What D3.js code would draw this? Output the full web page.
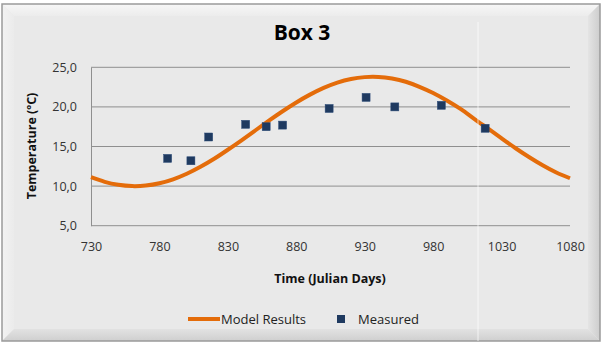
<!DOCTYPE html>
<html>
<head>
<meta charset="utf-8">
<script src="https://cdn.jsdelivr.net/npm/d3@7"></script>
<style>
  body { margin: 0; background: #fff; }
  svg { display: block; font-family: "Open Sans", sans-serif; }
</style>
</head>
<body>
<script>
// model results (every 10 days)
const modelDays = [730, 740, 750, 760, 770, 780, 790, 800, 810, 820, 830, 840, 850, 860, 870, 880, 890, 900, 910, 920, 930, 940, 950, 960, 970, 980, 990, 1000, 1010, 1020, 1030, 1040, 1050, 1060, 1070, 1080];
const modelTemp = [11.12, 10.54, 10.16, 10.0, 10.07, 10.36, 10.86, 11.56, 12.44, 13.45, 14.59, 15.78, 17.02, 18.26, 19.45, 20.56, 21.55, 22.4, 23.07, 23.53, 23.76, 23.78, 23.58, 23.18, 22.54, 21.76, 20.81, 19.74, 18.5, 17.28, 16.04, 14.81, 13.67, 12.62, 11.71, 10.99];

// measured points
const measDays = [786, 803, 816, 843, 858, 870, 904, 931, 952, 986, 1018];
const measTemp = [13.5, 13.2, 16.2, 17.8, 17.5, 17.7, 19.8, 21.2, 20.0, 20.2, 17.3];

const xTicks = [730, 780, 830, 880, 930, 980, 1030, 1080];
const yTicks = [5, 10, 15, 20, 25];

const W = 602, H = 343;
const svg = d3.select("body").append("svg").attr("width", W).attr("height", H);

const defs = svg.append("defs");
let g1 = defs.append("linearGradient").attr("id", "topBevel").attr("x1", 0).attr("y1", 0).attr("x2", 0).attr("y2", 1);
g1.append("stop").attr("offset", "0%").attr("stop-color", "#f7f7f7");
g1.append("stop").attr("offset", "100%").attr("stop-color", "#ececec");
let g2 = defs.append("linearGradient").attr("id", "botBevel").attr("x1", 0).attr("y1", 0).attr("x2", 0).attr("y2", 1);
g2.append("stop").attr("offset", "0%").attr("stop-color", "#e2e2e2");
g2.append("stop").attr("offset", "100%").attr("stop-color", "#cfcfcf");
let g3 = defs.append("linearGradient").attr("id", "rightBevel").attr("x1", 0).attr("y1", 0).attr("x2", 1).attr("y2", 0);
g3.append("stop").attr("offset", "0%").attr("stop-color", "#e4e4e4");
g3.append("stop").attr("offset", "100%").attr("stop-color", "#cdcdcd");
let g4 = defs.append("linearGradient").attr("id", "leftBevel").attr("x1", 0).attr("y1", 0).attr("x2", 1).attr("y2", 0);
g4.append("stop").attr("offset", "0%").attr("stop-color", "#f2f2f2");
g4.append("stop").attr("offset", "100%").attr("stop-color", "#ebebeb");

// frame with bevel
const fx0 = 2, fy0 = 4, fx1 = 600, fy1 = 341, bv = 12;
svg.append("rect").attr("x", fx0).attr("y", fy0).attr("width", fx1 - fx0).attr("height", fy1 - fy0)
  .attr("fill", "#e9e9e9");
svg.append("polygon").attr("fill", "url(#topBevel)")
  .attr("points", [[fx0, fy0], [fx1, fy0], [fx1 - bv, fy0 + bv], [fx0 + bv, fy0 + bv]].join(" "));
svg.append("polygon").attr("fill", "url(#leftBevel)")
  .attr("points", [[fx0, fy0], [fx0 + bv, fy0 + bv], [fx0 + bv, fy1 - bv], [fx0, fy1]].join(" "));
svg.append("polygon").attr("fill", "url(#rightBevel)")
  .attr("points", [[fx1, fy0], [fx1, fy1], [fx1 - bv, fy1 - bv], [fx1 - bv, fy0 + bv]].join(" "));
svg.append("polygon").attr("fill", "url(#botBevel)")
  .attr("points", [[fx0, fy1], [fx0 + bv, fy1 - bv], [fx1 - bv, fy1 - bv], [fx1, fy1]].join(" "));
svg.append("rect").attr("x", fx0).attr("y", fy0).attr("width", fx1 - fx0).attr("height", fy1 - fy0)
  .attr("fill", "none").attr("stroke", "#9a9a9a").attr("stroke-width", 1.5);

// scales
const x = d3.scaleLinear().domain([730, 1080]).range([91, 570]);
const y = d3.scaleLinear().domain([5, 25]).range([225.7, 67.3]);

// gridlines
svg.append("g").selectAll("line").data(yTicks).join("line")
  .attr("x1", 91).attr("x2", 570)
  .attr("y1", d => y(d)).attr("y2", d => y(d))
  .attr("stroke", "#8f8f8f").attr("stroke-width", 1);

// y axis
const yAxis = svg.append("g").attr("transform", "translate(91,0)")
  .call(d3.axisLeft(y).tickValues(yTicks).tickSize(0).tickPadding(14)
    .tickFormat(d => d3.format(".1f")(d).replace(".", ",")));
yAxis.select(".domain").attr("stroke", "#8f8f8f");
yAxis.selectAll("text").attr("font-size", 12.5).attr("fill", "#333").attr("font-family", "Open Sans");

// x axis (labels only)
const xAxis = svg.append("g").attr("transform", "translate(0,226)")
  .call(d3.axisBottom(x).tickValues(xTicks).tickSize(0).tickPadding(16).tickFormat(d3.format("d")));
xAxis.select(".domain").remove();
xAxis.selectAll("text").attr("font-size", 12.5).attr("fill", "#333").attr("font-family", "Open Sans");

// model line
const line = d3.line().x(d => x(d[0])).y(d => y(d[1])).curve(d3.curveNatural);
svg.append("path").datum(modelDays.map((d, i) => [d, modelTemp[i]]))
  .attr("d", line).attr("fill", "none").attr("stroke", "#E46C0A").attr("stroke-width", 4);

// measured markers
const ms = 8;
svg.append("g").selectAll("rect").data(measDays.map((d, i) => [d, measTemp[i]])).join("rect")
  .attr("x", d => x(d[0]) - ms / 2).attr("y", d => y(d[1]) - ms / 2)
  .attr("width", ms).attr("height", ms)
  .attr("fill", "#1F3A60").attr("stroke", "#2a4a78").attr("stroke-width", 0.5);

// titles
svg.append("text").attr("x", 302).attr("y", 40).attr("text-anchor", "middle")
  .attr("font-size", 21).attr("font-weight", "bold").attr("fill", "#000").text("Box 3");
svg.append("text").attr("x", 330).attr("y", 283).attr("text-anchor", "middle")
  .attr("font-size", 12.5).attr("font-weight", "bold").attr("fill", "#111").text("Time (Julian Days)");
svg.append("text").attr("transform", "translate(36,146) rotate(-90)").attr("text-anchor", "middle")
  .attr("font-size", 12.5).attr("font-weight", "bold").attr("fill", "#111").text("Temperature (ºC)");

// legend
const leg = svg.append("g").attr("transform", "translate(0,319)");
leg.append("line").attr("x1", 188).attr("x2", 220).attr("y1", 0).attr("y2", 0)
  .attr("stroke", "#E46C0A").attr("stroke-width", 4);
leg.append("text").attr("x", 221).attr("y", 4.5).attr("font-size", 13).attr("fill", "#222").text("Model Results");
leg.append("rect").attr("x", 337).attr("y", -4).attr("width", 8).attr("height", 8).attr("fill", "#1F3A60");
leg.append("text").attr("x", 358).attr("y", 4.5).attr("font-size", 13).attr("fill", "#222").text("Measured");

// faint white streak seen in the picture
svg.append("line").attr("x1", 478).attr("x2", 478).attr("y1", 22).attr("y2", 341)
  .attr("stroke", "#fff").attr("stroke-opacity", 0.7).attr("stroke-width", 1);
</script>
</body>
</html>
